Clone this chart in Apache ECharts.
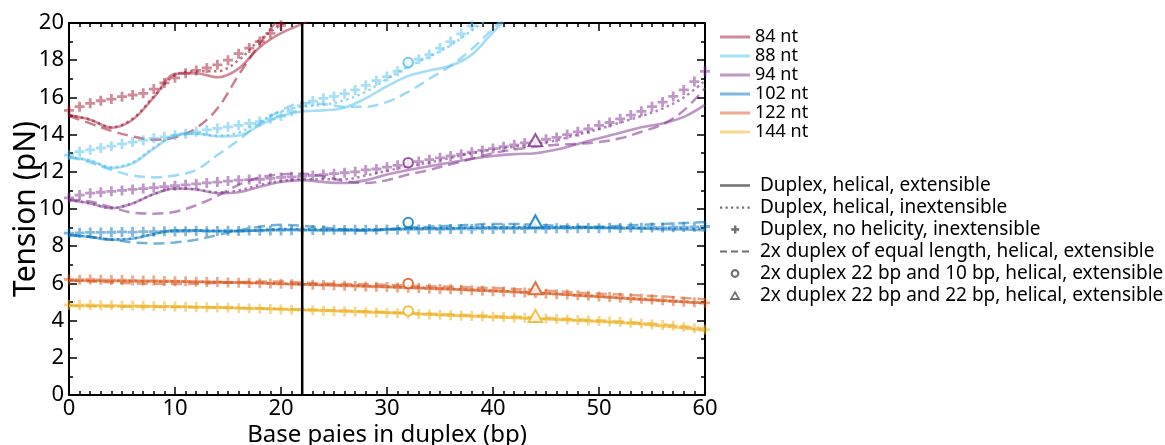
<!DOCTYPE html>
<html>
<head>
<meta charset="utf-8">
<script src="https://cdn.jsdelivr.net/npm/echarts@6/dist/echarts.min.js"></script>
<style>
  html, body { margin: 0; padding: 0; background: #ffffff; }
  #chart { width: 1165px; height: 445px; }
</style>
</head>
<body>
<div id="chart"></div>
<script>
// Base pairs in the duplex: curve samples every 2 bp, cross markers every 1 bp
const bpLine = [0, 2, 4, 6, 8, 10, 12, 14, 16, 18, 20, 22, 24, 26, 28, 30, 32, 34, 36, 38, 40, 42, 44, 46, 48, 50, 52, 54, 56, 58, 60];
const bpCross = [0, 1, 2, 3, 4, 5, 6, 7, 8, 9, 10, 11, 12, 13, 14, 15, 16, 17, 18, 19, 20,
  21, 22, 23, 24, 25, 26, 27, 28, 29, 30, 31, 32, 33, 34, 35, 36, 37, 38, 39, 40,
  41, 42, 43, 44, 45, 46, 47, 48, 49, 50, 51, 52, 53, 54, 55, 56, 57, 58, 59, 60];

const lengths = ['84 nt', '88 nt', '94 nt', '102 nt', '122 nt', '144 nt'];
const rgb = ['162,20,47', '77,190,238', '126,47,142', '0,114,189', '217,83,25', '237,177,32'];

// Tension (pN) -- duplex, helical, extensible (solid)
const solid84 = [15.05, 14.8, 14.37, 14.8, 16.0, 17.25, 17.3, 17.08, 17.55, 18.7, 19.45, 19.95, 20.5];
const solid88 = [12.8, 12.6, 12.2, 12.45, 13.25, 13.95, 14.05, 13.9, 13.95, 14.5, 15.0, 15.25, 15.3, 15.45, 15.95, 16.6, 17.15, 17.45, 17.7, 18.3, 19.5, 20.7];
const solid94 = [10.48, 10.3, 10.04, 10.3, 10.8, 11.1, 11.05, 10.85, 10.9, 11.2, 11.45, 11.55, 11.45, 11.4, 11.55, 11.85, 12.1, 12.3, 12.5, 12.7, 12.85, 12.95, 13.0, 13.2, 13.5, 13.8, 14.1, 14.4, 14.6, 14.95, 15.6];
const solid102 = [8.6, 8.5, 8.35, 8.4, 8.65, 8.85, 8.85, 8.8, 8.8, 8.85, 8.9, 8.9, 8.85, 8.85, 8.85, 8.9, 8.95, 8.95, 8.95, 9.0, 9.0, 9.0, 9.0, 9.0, 9.0, 9.0, 8.95, 8.95, 8.9, 8.9, 8.85];
const solid122 = [6.15, 6.14, 6.13, 6.12, 6.1, 6.1, 6.08, 6.07, 6.05, 6.02, 5.98, 5.95, 5.92, 5.89, 5.85, 5.82, 5.78, 5.74, 5.7, 5.65, 5.6, 5.55, 5.5, 5.43, 5.35, 5.28, 5.2, 5.13, 5.07, 5.0, 4.93];
const solid144 = [4.8, 4.79, 4.78, 4.77, 4.76, 4.75, 4.73, 4.71, 4.68, 4.65, 4.62, 4.58, 4.55, 4.51, 4.47, 4.43, 4.38, 4.33, 4.28, 4.23, 4.18, 4.14, 4.1, 4.05, 4.0, 3.94, 3.88, 3.8, 3.7, 3.59, 3.46];

// Duplex, helical, inextensible (dotted)
const dotted84 = [15.05, 14.8, 14.4, 14.85, 16.05, 17.2, 17.4, 17.4, 18.0, 19.1, 19.9, 20.6];
const dotted88 = [12.8, 12.6, 12.25, 12.5, 13.3, 13.95, 14.05, 13.95, 14.1, 14.7, 15.25, 15.5, 15.6, 15.85, 16.3, 17.0, 17.65, 18.2, 18.8, 19.6, 20.4];
const dotted94 = [10.48, 10.3, 10.05, 10.3, 10.8, 11.1, 11.05, 10.9, 11.0, 11.3, 11.5, 11.6, 11.6, 11.6, 11.8, 12.05, 12.3, 12.5, 12.75, 13.0, 13.2, 13.35, 13.5, 13.7, 14.0, 14.3, 14.65, 15.0, 15.4, 16.0, 16.9];
const dotted102 = [8.6, 8.5, 8.37, 8.42, 8.65, 8.85, 8.85, 8.82, 8.82, 8.87, 8.92, 8.92, 8.9, 8.9, 8.9, 8.92, 8.95, 8.97, 8.98, 9.0, 9.02, 9.02, 9.02, 9.02, 9.02, 9.0, 9.0, 8.98, 8.95, 8.95, 8.92];
const dotted122 = [6.15, 6.14, 6.13, 6.12, 6.11, 6.1, 6.09, 6.07, 6.05, 6.03, 5.99, 5.96, 5.93, 5.9, 5.86, 5.83, 5.79, 5.75, 5.71, 5.66, 5.61, 5.56, 5.51, 5.44, 5.37, 5.3, 5.22, 5.15, 5.08, 5.01, 4.94];
const dotted144 = [4.8, 4.79, 4.78, 4.77, 4.76, 4.75, 4.73, 4.71, 4.69, 4.66, 4.63, 4.59, 4.56, 4.52, 4.48, 4.44, 4.39, 4.34, 4.29, 4.24, 4.19, 4.15, 4.11, 4.06, 4.01, 3.95, 3.89, 3.81, 3.71, 3.6, 3.48];

// 2x duplex of equal length, helical, extensible (dashed)
const dashed84 = [15.0, 14.6, 14.2, 13.9, 13.72, 13.85, 14.35, 15.4, 17.2, 18.9, 20.4];
const dashed88 = [12.8, 12.5, 12.1, 11.8, 11.7, 11.8, 12.1, 12.9, 13.7, 14.6, 15.3, 15.7, 15.65, 15.5, 15.5, 15.75, 16.3, 17.0, 17.7, 18.6, 19.7, 20.8];
const dashed94 = [10.5, 10.4, 10.1, 9.8, 9.75, 9.85, 10.2, 10.7, 11.3, 11.7, 11.85, 11.9, 11.75, 11.5, 11.4, 11.55, 11.85, 12.1, 12.4, 12.7, 13.0, 13.2, 13.35, 13.45, 13.5, 13.6, 13.8, 14.15, 14.55, 15.3, 16.5];
const dashed102 = [8.6, 8.5, 8.35, 8.2, 8.15, 8.2, 8.35, 8.6, 8.85, 9.05, 9.15, 9.1, 9.0, 8.9, 8.85, 8.9, 9.0, 9.05, 9.1, 9.15, 9.2, 9.2, 9.15, 9.1, 9.05, 9.05, 9.1, 9.15, 9.2, 9.25, 9.3];
const dashed122 = [6.15, 6.1, 6.05, 6.0, 5.98, 5.97, 5.98, 6.02, 6.06, 6.1, 6.1, 6.05, 6.0, 5.97, 5.95, 5.92, 5.88, 5.85, 5.82, 5.78, 5.75, 5.7, 5.65, 5.58, 5.5, 5.45, 5.4, 5.35, 5.3, 5.22, 5.15];
const dashed144 = [4.8, 4.78, 4.76, 4.74, 4.73, 4.72, 4.71, 4.7, 4.68, 4.66, 4.63, 4.6, 4.57, 4.54, 4.5, 4.46, 4.42, 4.38, 4.34, 4.3, 4.26, 4.22, 4.18, 4.13, 4.08, 4.02, 3.96, 3.88, 3.8, 3.7, 3.58];

// Duplex, no helicity, inextensible (crosses, one per bp)
const cross84 = [15.3, 15.5, 15.68, 15.82, 15.91, 16.04, 16.13, 16.22, 16.45, 16.78, 17.05, 17.3, 17.45, 17.58, 17.75, 18.0, 18.35, 18.65, 19.0, 19.44, 19.88];
const cross88 = [12.9, 13.08, 13.18, 13.28, 13.38, 13.5, 13.6, 13.7, 13.8, 13.88, 13.96, 14.05, 14.15, 14.25, 14.33, 14.42, 14.5, 14.6, 14.7, 14.85,
  15.0, 15.25, 15.55, 15.8, 15.95, 16.05, 16.2, 16.4, 16.65, 16.9, 17.12, 17.4, 17.8, 18.05, 18.3, 18.65, 19.0, 19.42, 19.85, 20.3];
const cross94 = [10.6, 10.75, 10.85, 10.9, 10.95, 11.0, 11.05, 11.1, 11.15, 11.2, 11.25, 11.3, 11.35, 11.4, 11.45, 11.5, 11.55, 11.58, 11.6, 11.65,
  11.7, 11.73, 11.75, 11.8, 11.85, 11.9, 11.95, 12.0, 12.1, 12.15, 12.25, 12.35, 12.45, 12.55, 12.65, 12.75, 12.85, 12.95, 13.05, 13.15,
  13.25, 13.35, 13.45, 13.55, 13.65, 13.75, 13.85, 14.0, 14.15, 14.3, 14.5, 14.65, 14.85, 15.05, 15.25, 15.5, 15.75, 16.05, 16.4, 16.85, 17.4];
const cross102 = [8.7, 8.72, 8.74, 8.74, 8.75, 8.77, 8.76, 8.78, 8.78, 8.8, 8.79, 8.8, 8.82, 8.81, 8.82, 8.83, 8.82, 8.84, 8.83, 8.85,
  8.85, 8.86, 8.85, 8.87, 8.86, 8.88, 8.87, 8.88, 8.89, 8.88, 8.9, 8.89, 8.91, 8.9, 8.92, 8.91, 8.92, 8.93, 8.92, 8.94,
  8.93, 8.95, 8.94, 8.95, 8.96, 8.95, 8.97, 8.96, 8.97, 8.98, 8.97, 8.99, 8.98, 9.0, 8.99, 9.01, 9.0, 9.02, 9.03, 9.04, 9.06];
const cross122 = [6.22, 6.2, 6.21, 6.19, 6.18, 6.18, 6.16, 6.15, 6.15, 6.13, 6.12, 6.11, 6.09, 6.08, 6.07, 6.05, 6.04, 6.02, 6.01, 5.99,
  5.98, 5.96, 5.95, 5.93, 5.91, 5.9, 5.87, 5.86, 5.84, 5.82, 5.8, 5.78, 5.76, 5.75, 5.72, 5.7, 5.68, 5.66, 5.63, 5.61,
  5.58, 5.56, 5.53, 5.51, 5.48, 5.45, 5.42, 5.4, 5.36, 5.33, 5.3, 5.27, 5.23, 5.2, 5.17, 5.13, 5.1, 5.06, 5.02, 4.98, 4.95];
const cross144 = [4.85, 4.84, 4.84, 4.83, 4.82, 4.81, 4.8, 4.8, 4.78, 4.77, 4.76, 4.75, 4.73, 4.72, 4.7, 4.69, 4.67, 4.65, 4.64, 4.62,
  4.6, 4.58, 4.56, 4.55, 4.53, 4.51, 4.49, 4.47, 4.45, 4.43, 4.41, 4.39, 4.37, 4.35, 4.33, 4.31, 4.29, 4.27, 4.25, 4.23,
  4.21, 4.19, 4.17, 4.15, 4.13, 4.11, 4.08, 4.06, 4.03, 4.01, 3.98, 3.95, 3.92, 3.89, 3.85, 3.81, 3.77, 3.72, 3.66, 3.59, 3.52];

// 2x duplex 22 bp + 10 bp (circle, at 32 bp) and 22 bp + 22 bp (triangle, at 44 bp)
const circleBp = 32;
const circleTension = [null, 17.87, 12.49, 9.27, 6.0, 4.52];
const triangleBp = 44;
const triangleTension = [null, null, 13.7, 9.33, 5.74, 4.25];

// Boundary of the first duplex
const boundaryBp = 22;

const styleNames = [
  'Duplex, helical, extensible',
  'Duplex, helical, inextensible',
  'Duplex, no helicity, inextensible',
  '2x duplex of equal length, helical, extensible',
  '2x duplex 22 bp and 10 bp, helical, extensible',
  '2x duplex 22 bp and 22 bp, helical, extensible'
];

const FONT = '"Noto Sans", "Open Sans", sans-serif';
const solidSets = [solid84, solid88, solid94, solid102, solid122, solid144];
const dottedSets = [dotted84, dotted88, dotted94, dotted102, dotted122, dotted144];
const dashedSets = [dashed84, dashed88, dashed94, dashed102, dashed122, dashed144];
const crossSets = [cross84, cross88, cross94, cross102, cross122, cross144];

const pairs = (xs, ys) => ys.map((y, i) => [xs[i], y]).filter(p => p[1] !== null && p[1] !== undefined);
const plusPath = 'path://M3.6,0h2.8v10h-2.8z M0,3.6h10v2.8h-10z';

const series = [];
lengths.forEach((name, k) => {
  const c = rgb[k];
  series.push({
    name: name + ' dashed', type: 'line', data: pairs(bpLine, dashedSets[k]),
    smooth: 0.35, symbol: 'none', color: 'rgba(' + c + ',0.55)',
    lineStyle: { width: 2.5, type: [11, 6] }, z: 2
  });
  series.push({
    name: name + ' dotted', type: 'line', data: pairs(bpLine, dottedSets[k]),
    smooth: 0.35, symbol: 'none', color: 'rgba(' + c + ',0.6)',
    lineStyle: { width: 2.5, type: [2.5, 3.5] }, z: 2
  });
  series.push({
    name: name, type: 'line', data: pairs(bpLine, solidSets[k]),
    smooth: 0.35, symbol: 'none', color: 'rgba(' + c + ',0.5)',
    lineStyle: { width: 2.6 }, z: 2
  });
  series.push({
    name: name + ' crosses', type: 'scatter', data: pairs(bpCross, crossSets[k]),
    symbol: plusPath, symbolSize: 10, itemStyle: { color: 'rgba(' + c + ',0.62)' }, z: 3
  });
});
lengths.forEach((name, k) => {
  const c = 'rgb(' + rgb[k] + ')';
  if (circleTension[k] !== null) {
    series.push({
      name: name + ' 22+10', type: 'scatter', data: [[circleBp, circleTension[k]]],
      symbol: 'emptyCircle', symbolSize: 9.5,
      itemStyle: { color: c, borderColor: c, borderWidth: 2.8 }, z: 5
    });
  }
  if (triangleTension[k] !== null) {
    series.push({
      name: name + ' 22+22', type: 'scatter', data: [[triangleBp, triangleTension[k]]],
      symbol: 'emptyTriangle', symbolSize: [13.5, 12],
      itemStyle: { color: c, borderColor: c, borderWidth: 2.8 }, z: 5
    });
  }
});
// Vertical boundary line
series.push({
  name: 'boundary', type: 'line', data: [[boundaryBp, 0], [boundaryBp, 20]],
  symbol: 'none', color: '#000', lineStyle: { width: 2.5, color: '#000' }, z: 6, silent: true
});
// Grey style-key entries
styleNames.forEach(n => series.push({ name: n, type: 'line', data: [], color: '#707070' }));

// Key icons drawn within a 35 x 14 box (tiny corner specks fix the box)
const box = 'M0,0L0.01,0L0,0.01Z M35,14L34.99,14L35,13.99Z ';
const styleIcons = [
  'path://' + box + 'M0,5.8h30v2.4h-30z',
  'path://' + box + 'M0,6h2.2v2.2h-2.2z M5.5,6h2.2v2.2h-2.2z M11,6h2.2v2.2h-2.2z M16.5,6h2.2v2.2h-2.2z M22,6h2.2v2.2h-2.2z M27.5,6h2.2v2.2h-2.2z',
  'path://' + box + 'M14,3h2.4v8h-2.4z M11.2,5.8h8v2.4h-8z',
  'path://' + box + 'M0,5.9h7v2.2h-7z M11,5.9h7v2.2h-7z M22,5.9h7v2.2h-7z',
  'path://' + box + 'M10.6,7a4.4,4.4 0 1,0 8.8,0a4.4,4.4 0 1,0 -8.8,0z M12.8,7a2.2,2.2 0 1,1 4.4,0a2.2,2.2 0 1,1 -4.4,0z',
  'path://' + box + 'M15,2L20.5,11.5L9.5,11.5z M15,5.6L12.4,9.6L17.6,9.6z'
];

const tickStyle = { color: '#000', width: 1.5 };
const baseX = {
  type: 'value', min: 0, max: 60, interval: 10,
  axisLine: { show: true, onZero: false, lineStyle: { color: '#000', width: 2 } },
  axisTick: { show: true, inside: true, length: 8, lineStyle: tickStyle },
  minorTick: { show: true, splitNumber: 10, length: 4, lineStyle: tickStyle },
  splitLine: { show: false }
};
const baseY = {
  type: 'value', min: 0, max: 20, interval: 2,
  axisLine: { show: true, onZero: false, lineStyle: { color: '#000', width: 2 } },
  axisTick: { show: true, inside: true, length: 8, lineStyle: tickStyle },
  minorTick: { show: true, splitNumber: 2, length: 4, lineStyle: tickStyle },
  splitLine: { show: false }
};

const chart = echarts.init(document.getElementById('chart'), null, { renderer: 'canvas' });
chart.setOption({
  animation: false,
  backgroundColor: '#ffffff',
  grid: { left: 69, right: 460, top: 23, bottom: 50, containLabel: false, outerBoundsMode: 'none' },
  xAxis: [
    Object.assign({}, baseX, {
      position: 'bottom',
      axisLabel: { fontSize: 22, color: '#000', margin: 3, fontFamily: FONT },
      name: 'Base paies in duplex (bp)', nameLocation: 'middle', nameGap: 28, nameMoveOverlap: false,
      nameTextStyle: { fontSize: 24, color: '#000', fontFamily: FONT }
    }),
    Object.assign({}, baseX, { position: 'top', axisLabel: { show: false } })
  ],
  yAxis: [
    Object.assign({}, baseY, {
      position: 'left',
      axisLabel: { fontSize: 22, color: '#000', margin: 5, fontFamily: FONT },
      name: 'Tension (pN)', nameLocation: 'middle', nameGap: 28, nameMoveOverlap: false,
      nameTextStyle: { fontSize: 30, color: '#000', fontFamily: FONT }
    }),
    Object.assign({}, baseY, { position: 'right', axisLabel: { show: false } })
  ],
  legend: [
    {
      orient: 'vertical', left: 715, top: 23, itemWidth: 30, itemHeight: 12, itemGap: 1,
      selectedMode: false,
      textStyle: { fontSize: 18, color: '#000', fontFamily: FONT },
      data: lengths.map((n, k) => ({ name: n, icon: 'path://M0,0h30v3h-30z', itemStyle: { color: 'rgba(' + rgb[k] + ',0.5)' } }))
    },
    {
      orient: 'vertical', left: 715, top: 171, itemWidth: 35, itemHeight: 14, itemGap: 3,
      selectedMode: false,
      textStyle: { fontSize: 19, color: '#000', fontFamily: FONT },
      data: styleNames.map((n, i) => ({ name: n, icon: styleIcons[i], itemStyle: { color: '#707070' } }))
    }
  ],
  series: series
});
</script>
</body>
</html>
